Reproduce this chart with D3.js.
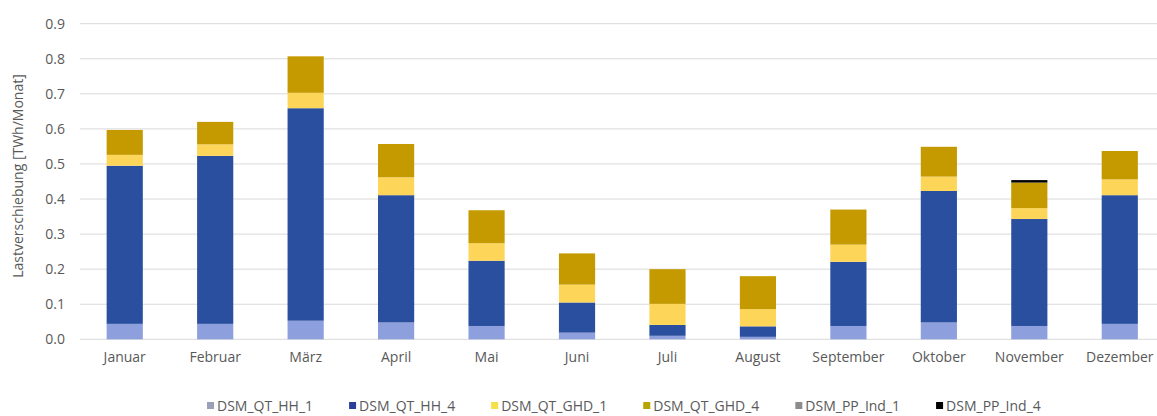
<!DOCTYPE html>
<html><head><meta charset="utf-8">
<script src="https://cdn.jsdelivr.net/npm/d3@7"></script>
<style>body{margin:0;background:#fff}svg{display:block}</style>
</head><body><svg id="c" width="1157" height="416"></svg>
<script>
const months = ["Januar","Februar","März","April","Mai","Juni","Juli","August","September","Oktober","November","Dezember"];
const seriesNames = ["DSM_QT_HH_1","DSM_QT_HH_4","DSM_QT_GHD_1","DSM_QT_GHD_4","DSM_PP_Ind_1","DSM_PP_Ind_4"];
const hh1  = [0.044,0.044,0.053,0.048,0.038,0.019,0.010,0.007,0.038,0.048,0.038,0.044];
const hh4  = [0.451,0.479,0.606,0.363,0.186,0.086,0.031,0.030,0.183,0.375,0.305,0.367];
const ghd1 = [0.031,0.033,0.044,0.051,0.050,0.051,0.060,0.049,0.049,0.041,0.031,0.045];
const ghd4 = [0.071,0.064,0.104,0.095,0.094,0.089,0.099,0.094,0.100,0.085,0.073,0.081];
const ind1 = [0,0,0,0,0,0,0,0,0,0,0,0];
const ind4 = [0,0,0,0,0,0,0,0,0,0,0.007,0];
const yTicks = [0,0.1,0.2,0.3,0.4,0.5,0.6,0.7,0.8,0.9];
const colors = ["#8d9fdc","#2b4f9f","#fdd659","#c59a00","#7f7f7f","#000000"];
const legendColors = ["#9aa0b8","#2b3f9a","#f5e04a","#b8a400","#8c8c8c","#000000"];

const svg = d3.select("#c");
const W = 1157;
const x = d3.scaleBand().domain(months).range([79.5,1165]).paddingInner(0.6).paddingOuter(0.3);
const y = d3.scaleLinear().domain([0,0.9]).range([339.3,23.7]);

const font = "'Open Sans', sans-serif";
const grey = "#595959";
const fs = 14;

// grid
svg.append("g").selectAll("line").data(yTicks.slice(1)).join("line")
  .attr("x1",80).attr("x2",W).attr("y1",d=>y(d)).attr("y2",d=>y(d))
  .attr("stroke","#d9d9d9").attr("stroke-width",1);
svg.append("line").attr("x1",80).attr("x2",W).attr("y1",y(0)).attr("y2",y(0)).attr("stroke","#d9d9d9");

// y axis
const yAxis = d3.axisLeft(y).tickValues(yTicks).tickFormat(d3.format(".1f")).tickSize(0).tickPadding(0);
const ya = svg.append("g").attr("transform","translate(65,0)").call(yAxis);
ya.select(".domain").remove();
ya.selectAll("text").attr("font-family",font).attr("font-size",fs).attr("fill",grey);

// x axis
const xAxis = d3.axisBottom(x).tickSize(0).tickPadding(0);
const xa = svg.append("g").attr("transform","translate(0,352)").call(xAxis);
xa.select(".domain").remove();
xa.selectAll("text").attr("font-family",font).attr("font-size",fs).attr("fill",grey).attr("dy","0.71em");

// y title
svg.append("text").attr("transform","translate(23,176) rotate(-90)").attr("text-anchor","middle")
  .attr("font-family",font).attr("font-size",fs).attr("fill",grey).text("Lastverschiebung [TWh/Monat]");

// stacked data
const table = months.map((m,i)=>({month:m,
  [seriesNames[0]]:hh1[i],[seriesNames[1]]:hh4[i],[seriesNames[2]]:ghd1[i],
  [seriesNames[3]]:ghd4[i],[seriesNames[4]]:ind1[i],[seriesNames[5]]:ind4[i]}));
const stack = d3.stack().keys(seriesNames)(table);
svg.append("g").selectAll("g").data(stack).join("g").attr("fill",(d,i)=>colors[i])
  .selectAll("rect").data(d=>d).join("rect")
  .attr("x",d=>x(d.data.month)).attr("width",x.bandwidth())
  .attr("y",d=>y(d[1])).attr("height",d=>Math.max(0,y(d[0])-y(d[1])));

// legend
const lg = svg.append("g").attr("transform","translate(0,406)");
let lx = 207;
seriesNames.forEach((n,i)=>{
  lg.append("rect").attr("x",lx).attr("y",-4).attr("width",7).attr("height",7).attr("fill",legendColors[i]);
  const t = lg.append("text").attr("x",lx+10).attr("y",0).attr("dy","0.35em")
    .attr("font-family",font).attr("font-size",fs).attr("fill",grey).text(n);
  lx += 10 + t.node().getComputedTextLength() + 36;
});
</script></body></html>
